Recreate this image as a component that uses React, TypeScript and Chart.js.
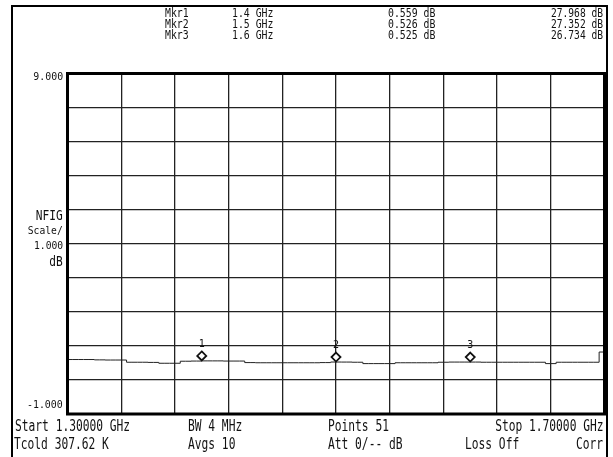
import React, { useEffect, useRef } from "react";
import { Chart, registerables } from "chart.js";
Chart.register(...registerables);

const W = 613;
const H = 457;

// Frequency points (GHz), 51 points from 1.3 to 1.7
const frequenciesGHz = [
  1.3, 1.308, 1.316, 1.324, 1.332, 1.34, 1.348, 1.356, 1.364, 1.372,
  1.38, 1.388, 1.396, 1.404, 1.412, 1.42, 1.428, 1.436, 1.444, 1.452,
  1.46, 1.468, 1.476, 1.484, 1.492, 1.5, 1.508, 1.516, 1.524, 1.532,
  1.54, 1.548, 1.556, 1.564, 1.572, 1.58, 1.588, 1.596, 1.604, 1.612,
  1.62, 1.628, 1.636, 1.644, 1.652, 1.66, 1.668, 1.676, 1.684, 1.692, 1.7,
];
// Noise figure trace (dB)
const nfigDb = [
  0.6, 0.6, 0.6, 0.59, 0.585, 0.585, 0.52, 0.52, 0.515, 0.49,
  0.49, 0.55, 0.555, 0.56, 0.56, 0.555, 0.555, 0.51, 0.505, 0.505,
  0.505, 0.505, 0.505, 0.505, 0.51, 0.526, 0.525, 0.52, 0.48, 0.48,
  0.48, 0.505, 0.505, 0.505, 0.505, 0.52, 0.525, 0.525, 0.525, 0.52,
  0.52, 0.52, 0.52, 0.52, 0.52, 0.48, 0.52, 0.52, 0.52, 0.52, 0.82,
];

const markerNames = ["1", "2", "3"];
const markerFreqGHz = [1.4, 1.5, 1.6];
const markerNfigDb = [0.559, 0.526, 0.525];
const markerGainDb = [27.968, 27.352, 26.734];

const yMin = -1;
const yMax = 9;
const yStep = 1;
const xMin = 1.3;
const xMax = 1.7;
const xStep = 0.04;

const topLabel = "9.000";
const bottomLabel = "-1.000";
const scaleLabels = ["NFIG", "Scale/", "1.000", "dB"];
const footerRow1 = ["Start 1.30000 GHz", "BW 4 MHz", "Points 51", "Stop 1.70000 GHz"];
const footerRow2 = ["Tcold 307.62 K", "Avgs 10", "Att 0/-- dB", "Loss Off", "Corr"];

const FONT = '"DejaVu Sans Mono", "Liberation Mono", monospace';

type TP = { x: number; y: number; text: string; size: number; align?: "left" | "right"; sx?: number };
function T({ x, y, text, size, align = "left", sx = 0.82 }: TP) {
  const style: React.CSSProperties = {
    position: "absolute",
    top: y - size * 0.6,
    fontFamily: FONT,
    fontSize: size,
    lineHeight: `${size * 1.2}px`,
    whiteSpace: "pre",
    color: "#111",
    transform: `scaleX(${sx})`,
    transformOrigin: align === "left" ? "left center" : "right center",
  };
  if (align === "left") style.left = x;
  else style.right = W - x;
  return <div style={style}>{text}</div>;
}

const frameAndMarkers = {
  id: "frameAndMarkers",
  afterDatasetsDraw(chart: any) {
    const { ctx, chartArea, scales } = chart;
    ctx.save();
    ctx.strokeStyle = "#000";
    ctx.lineWidth = 3;
    ctx.strokeRect(chartArea.left, chartArea.top, chartArea.right - chartArea.left, chartArea.bottom - chartArea.top);
    const xs = scales.x;
    const ys = scales.y;
    for (let i = 0; i < markerFreqGHz.length; i++) {
      const px = xs.getPixelForValue(markerFreqGHz[i]);
      const py = ys.getPixelForValue(markerNfigDb[i]) - 5;
      ctx.beginPath();
      ctx.moveTo(px, py - 4.5);
      ctx.lineTo(px + 4.5, py);
      ctx.lineTo(px, py + 4.5);
      ctx.lineTo(px - 4.5, py);
      ctx.closePath();
      ctx.fillStyle = "#fff";
      ctx.fill();
      ctx.lineWidth = 1.8;
      ctx.strokeStyle = "#111";
      ctx.stroke();
      ctx.fillStyle = "#111";
      ctx.font = `10px ${FONT}`;
      ctx.textAlign = "center";
      ctx.textBaseline = "middle";
      ctx.fillText(markerNames[i], px, py - 12);
    }
    ctx.restore();
  },
};

export default function App() {
  const ref = useRef<HTMLCanvasElement | null>(null);
  useEffect(() => {
    if (!ref.current) return;
    const chart = new Chart(ref.current, {
      type: "line",
      data: {
        datasets: [
          {
            data: frequenciesGHz.map((f, i) => ({ x: f, y: nfigDb[i] })),
            borderColor: "#222",
            borderWidth: 1,
            pointRadius: 0,
            stepped: "middle",
            fill: false,
          },
        ],
      },
      options: {
        animation: false,
        responsive: false,
        devicePixelRatio: 1,
        layout: { padding: { left: 0, top: 73.5, right: 8.5, bottom: 43 } },
        plugins: { legend: { display: false }, tooltip: { enabled: false } },
        scales: {
          x: {
            type: "linear",
            min: xMin,
            max: xMax,
            ticks: { display: false, stepSize: xStep },
            grid: { color: "#222", lineWidth: 1.3, drawTicks: false },
            border: { display: false },
            afterFit: (s: any) => {
              s.height = 0;
            },
          },
          y: {
            min: yMin,
            max: yMax,
            ticks: { display: false, stepSize: yStep },
            grid: { color: "#222", lineWidth: 1.3, drawTicks: false },
            border: { display: false },
            afterFit: (s: any) => {
              s.width = 67.5;
            },
          },
        },
      },
      plugins: [frameAndMarkers],
    });
    return () => chart.destroy();
  }, []);

  const hdrY = [13, 24, 35];
  return (
    <div style={{ position: "absolute", left: 0, top: 0, width: W, height: H, overflow: "hidden", background: "#fff" }}>
      <div
        style={{
          position: "absolute",
          left: 11,
          top: 5,
          width: 597,
          height: 480,
          border: "2.5px solid #000",
          boxSizing: "border-box",
        }}
      />
      <canvas ref={ref} width={W} height={H} style={{ position: "absolute", left: 0, top: 0, width: W, height: H }} />
      {markerNames.map((n, i) => (
        <React.Fragment key={n}>
          <T x={165} y={hdrY[i]} size={12} sx={0.82} text={`Mkr${n}`} />
          <T x={232} y={hdrY[i]} size={12} sx={0.82} text={`${markerFreqGHz[i]} GHz`} />
          <T x={388} y={hdrY[i]} size={12} sx={0.82} text={`${markerNfigDb[i].toFixed(3)} dB`} />
          <T x={603} y={hdrY[i]} size={12} sx={0.8} align="right" text={`${markerGainDb[i].toFixed(3)} dB`} />
        </React.Fragment>
      ))}
      <T x={63} y={77} size={11} align="right" sx={0.9} text={topLabel} />
      <T x={63} y={405} size={11} align="right" sx={0.9} text={bottomLabel} />
      <T x={63} y={215} size={14} align="right" sx={0.8} text={scaleLabels[0]} />
      <T x={63} y={231} size={11} align="right" sx={0.88} text={scaleLabels[1]} />
      <T x={63} y={246} size={11} align="right" sx={0.88} text={scaleLabels[2]} />
      <T x={63} y={261} size={14} align="right" sx={0.8} text={scaleLabels[3]} />
      <T x={15} y={426} size={15} sx={0.75} text={footerRow1[0]} />
      <T x={188} y={426} size={15} sx={0.75} text={footerRow1[1]} />
      <T x={328} y={426} size={15} sx={0.75} text={footerRow1[2]} />
      <T x={603} y={426} size={15} align="right" sx={0.75} text={footerRow1[3]} />
      <T x={14} y={444} size={15} sx={0.75} text={footerRow2[0]} />
      <T x={188} y={444} size={15} sx={0.75} text={footerRow2[1]} />
      <T x={328} y={444} size={15} sx={0.75} text={footerRow2[2]} />
      <T x={465} y={444} size={15} sx={0.75} text={footerRow2[3]} />
      <T x={603} y={444} size={15} align="right" sx={0.75} text={footerRow2[4]} />
    </div>
  );
}
